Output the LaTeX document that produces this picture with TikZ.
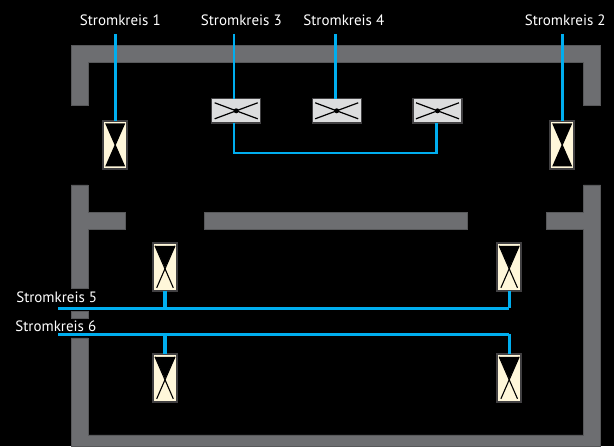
\documentclass[tikz,border=0pt]{standalone}
\usepackage{fontspec}
\setmainfont{PT Sans}
\usetikzlibrary{positioning}
\definecolor{wallgray}{HTML}{6D6E71}
\definecolor{walledge}{HTML}{58595B}
\definecolor{wirecyan}{HTML}{00AEEF}
\definecolor{lampcream}{HTML}{FFF7DA}
\definecolor{boxgray}{HTML}{DCDDDE}
\definecolor{rimgray}{HTML}{414042}
\begin{document}
\begin{tikzpicture}[x=1pt,y=1pt]
\tikzstyle{every node}+=[inner sep=0pt,outer sep=0pt]
\tikzstyle{wall}=[fill=wallgray,draw=walledge,line width=0.5pt]
\tikzstyle{wire}=[draw=wirecyan,line width=2.5pt]
\tikzstyle{thickwire}=[draw=wirecyan,line width=3.2pt]
\tikzstyle{label}=[text=white,font=\fontsize{15}{17}\selectfont]
\tikzstyle{lamp}=[draw=rimgray,fill=lampcream,line width=1.6pt,minimum width=24.1pt,minimum height=48.1pt]
\tikzstyle{lampclosed}=[lamp,path picture={
  \fill [black,shift={(path picture bounding box.center)}] (-10,21.5) -- (10,21.5) -- (0.6,0) -- (10,-21.5) -- (-10,-21.5) -- (-0.6,0) -- cycle;}]
\tikzstyle{lampopen}=[lamp,path picture={
  \fill [black,shift={(path picture bounding box.center)}] (-10,21) -- (10,21) -- (0,-1) -- cycle;
  \draw [black,line width=1.1pt,shift={(path picture bounding box.center)}] (-10,21) -- (8.3,-21);
  \draw [black,line width=1.1pt,shift={(path picture bounding box.center)}] (10,21) -- (-8.3,-21);}]
\tikzstyle{ballast}=[draw=rimgray,fill=boxgray,line width=1.2pt,minimum width=49.1pt,minimum height=24.5pt,path picture={
  \draw [black,line width=1.2pt,shift={(path picture bounding box.center)}] (-21.5,8) -- (21.5,-8);
  \draw [black,line width=1.2pt,shift={(path picture bounding box.center)}] (-21.5,-8) -- (21.5,8);
  \fill [black,shift={(path picture bounding box.center)}] (0,0) circle (2.5);}]
\fill [black] (0,0) rectangle (614,-446);
% walls
\filldraw [wall] (71,-105.5) -- (71,-45.5) -- (600.7,-45.5) -- (600.7,-105.5) -- (583.7,-105.5) -- (583.7,-62) -- (88,-62) -- (88,-105.5) -- cycle;
\filldraw [wall] (71,-185) -- (88,-185) -- (88,-212.3) -- (125,-212.3) -- (125,-229.7) -- (88,-229.7) -- (88,-288.7) -- (71,-288.7) -- cycle;
\filldraw [wall] (71,-311) rectangle (88,-318.3);
\filldraw [wall] (204.3,-212.3) rectangle (467,-229.7);
\filldraw [wall] (71,-338) -- (88,-338) -- (88,-435) -- (583.3,-435) -- (583.3,-229.7) -- (546.3,-229.7) -- (546.3,-212.3) -- (583.3,-212.3) -- (583.3,-185) -- (600.7,-185) -- (600.7,-446) -- (71,-446) -- cycle;
% lamps
\node [lampclosed] (lamp1) at (115.2,-145) {};
\node [lampclosed] (lamp2) at (562.2,-145) {};
\node [lampopen] (lamp3) at (165,-266.8) {};
\node [lampopen] (lamp4) at (509.2,-266.8) {};
\node [lampopen] (lamp5) at (165,-377.8) {};
\node [lampopen] (lamp6) at (509.2,-377.8) {};
\node [ballast] (box3) at (236.2,-110.8) {};
\node [ballast] (box4) at (336.7,-110.8) {};
\node [ballast] (box5) at (437.5,-110.8) {};
% labels
\node [label] (sk1) at (120.3,-20) {Stromkreis 1};
\node [label] (sk3) at (241.3,-20) {Stromkreis 3};
\node [label] (sk4) at (343.8,-20) {Stromkreis 4};
\node [label] (sk2) at (565.2,-20) {Stromkreis 2};
\node [label] (sk5) at (56.7,-297.7) {Stromkreis 5};
\node [label] (sk6) at (55.8,-326.7) {Stromkreis 6};
% wires
\coordinate (top1) at (115.3,-34);
\coordinate (top2) at (562.3,-34);
\coordinate (top3) at (234,-34);
\coordinate (top4) at (335.3,-34);
\coordinate (bend3) at (234,-153);
\coordinate (bend5) at (436.7,-153);
\coordinate (end5) at (58,-308.5);
\coordinate (end6) at (58,-334.5);
\draw [thickwire] (top1) -- (top1 |- lamp1.north);
\draw [thickwire] (top2) -- (top2 |- lamp2.north);
\draw [wire] (top3) -- (top3 |- box3.north);
\draw [wire] (top4) -- (top4 |- box4.north);
\draw [wire] (bend3 |- box3.south) -- (bend3) -- (bend5) -- (bend5 |- box5.south);
\draw [wire] (end5) -- (end5 -| lamp4.south);
\draw [wire] (end6) -- (end6 -| lamp6.north);
\draw [thickwire] (lamp4.south) -- (lamp4.south |- end5);
\draw [thickwire] (lamp6.north) -- (lamp6.north |- end6);
\draw [thickwire] (lamp3.south) -- (lamp3.south |- end5);
\draw [thickwire] (lamp5.north) -- (lamp5.north |- end6);
\end{tikzpicture}
\end{document}
